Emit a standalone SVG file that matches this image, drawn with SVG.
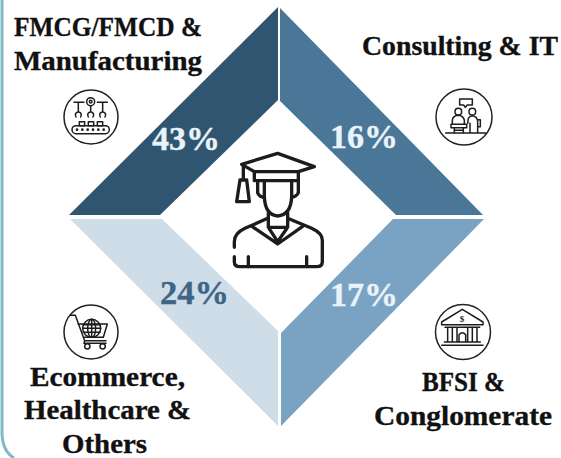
<svg xmlns="http://www.w3.org/2000/svg" width="561" height="458" viewBox="0 0 561 458">
<style>
text{font-family:"Liberation Serif","Times New Roman",serif;font-weight:700}
.lb{font-size:28px;fill:#111;stroke:#111;stroke-width:.35px}
.pc{font-size:34px;stroke-width:.4px}
.ln{fill:none;stroke:#1c1c1c;stroke-linecap:round;stroke-linejoin:round}
.ic{stroke-width:4.5}
.rg{fill:#fff;stroke:#222;stroke-width:1.5}
.gr{stroke-width:10}
</style>
<rect width="561" height="458" fill="#fff"/>
<path d="M2,0V432Q2,451 14,458" fill="none" stroke="#7fbac6" stroke-width="3"/>
<g id="seg-fmcg">
<polygon points="278,7 278,100 160,215 69,215" fill="#305570"/>
<text class="pc" x="152" y="150" fill="#e9f3f8" stroke="#e9f3f8" textLength="68" lengthAdjust="spacingAndGlyphs">43%</text>
<text class="lb" x="14" y="36" textLength="188" lengthAdjust="spacingAndGlyphs">FMCG/FMCD &amp;</text>
<text class="lb" x="14" y="70" textLength="188" lengthAdjust="spacingAndGlyphs">Manufacturing</text>
<circle class="rg" cx="91" cy="117" r="27"/>
<g class="ln ic" transform="translate(50,85) scale(.3333)">
<path d="M72,52H102M85,52V78M142,52H172M158,52V78M122,64V78"/>
<circle cx="122" cy="50" r="12"/><circle cx="122" cy="50" r="4"/>
<path d="M78,96Q72,84 85,80Q98,84 92,96M115,96Q109,84 122,80Q135,84 129,96M151,96Q145,84 158,80Q171,84 165,96"/>
<rect x="88" y="110" width="16" height="12"/><rect x="115" y="110" width="16" height="12"/><rect x="142" y="110" width="16" height="12"/>
<rect x="66" y="122" width="112" height="24" rx="12"/>
<path d="M81,134h.1M97,134h.1M113,134h.1M129,134h.1M145,134h.1M161,134h.1" stroke-width="8"/>
</g>
</g>
<g id="seg-consulting">
<polygon points="280,8 483,215 396,215 280,101" fill="#4a7698"/>
<text class="pc" x="330" y="148" fill="#e9f3f8" stroke="#e9f3f8" textLength="68" lengthAdjust="spacingAndGlyphs">16%</text>
<text class="lb" x="362" y="55" textLength="196" lengthAdjust="spacingAndGlyphs">Consulting &amp; IT</text>
<circle class="rg" cx="464" cy="117" r="28"/>
<g class="ln ic" transform="translate(425,85) scale(.3333)">
<path d="M104,42H142V60H127L121,67L116,60H104Z"/>
<circle cx="100" cy="80" r="10"/><circle cx="142" cy="80" r="10"/>
<path d="M82,118V105Q84,92 100,91Q114,92 118,105V118M78,118H125V128H78ZM88,128V143M115,128V143M88,136H115"/>
<path d="M128,115L130,100Q135,92 142,92Q156,94 158,108V143M158,104H166V125H158M135,115V143M62,144H182"/>
</g>
</g>
<g id="seg-ecommerce">
<polygon points="70,219 162,219 278,331 278,426" fill="#cfdde8"/>
<text class="pc" x="160" y="304" fill="#3f6585" stroke="#3f6585" textLength="69" lengthAdjust="spacingAndGlyphs">24%</text>
<text class="lb" x="30" y="386" textLength="155" lengthAdjust="spacingAndGlyphs">Ecommerce,</text>
<text class="lb" x="24" y="419" textLength="167" lengthAdjust="spacingAndGlyphs">Healthcare &amp;</text>
<text class="lb" x="62" y="453" textLength="85" lengthAdjust="spacingAndGlyphs">Others</text>
<circle class="rg" cx="91" cy="332" r="27"/>
<g class="ln ic" transform="translate(50,300) scale(.3333)">
<path d="M60,46H76L104,122H168M84,72H172L160,112H100M104,122L102,130H168"/>
<circle cx="125" cy="85" r="27"/><ellipse cx="125" cy="85" rx="12" ry="27"/>
<path d="M125,58V112M100,74H150M98,85H152M100,97H150"/>
<circle cx="112" cy="139" r="8"/><circle cx="158" cy="139" r="8"/>
</g>
</g>
<g id="seg-bfsi">
<polygon points="484,219 393,219 281,333 281,426" fill="#7aa3c3"/>
<text class="pc" x="330" y="306" fill="#e9f3f8" stroke="#e9f3f8" textLength="68" lengthAdjust="spacingAndGlyphs">17%</text>
<text class="lb" x="422" y="391" textLength="83" lengthAdjust="spacingAndGlyphs">BFSI &amp;</text>
<text class="lb" x="374" y="425" textLength="178" lengthAdjust="spacingAndGlyphs">Conglomerate</text>
<circle class="rg" cx="463" cy="332" r="27.5"/>
<g class="ln ic" transform="translate(425,300) scale(.3333)">
<path d="M112,28L50,66V74H174V66Z"/>
<path d="M60,82H164M68,84V124M82,84V124M96,84V124M128,84V124M142,84V124M156,84V124M102,124V104Q112,92 122,104V124M58,126H166M50,136H174"/>
</g>
<text x="462" y="322" font-size="9" fill="#1c1c1c" text-anchor="middle">$</text>
</g>
<g id="graduate" class="ln gr" transform="translate(215,140) scale(.3333)">
<path d="M80,73L188,40L298,80L250,95H118Z"/>
<path d="M118,95V122H250V95M85,76V118M75,120H95L103,185H65Z"/>
<path d="M128,125V158Q132,170 148,172M250,125V158Q245,170 230,172"/>
<path d="M148,125V170Q150,225 188,228Q228,225 230,170V125"/>
<path d="M160,218V262L188,305L218,262V218M160,262H218M112,260L188,312L262,260"/>
<path d="M158,235L90,265Q58,280 58,305V322M58,350V365Q58,380 75,380H305Q322,380 322,365V300Q322,280 290,265L218,235"/>
<path d="M100,350V380M275,350V380"/>
</g>
</svg>
